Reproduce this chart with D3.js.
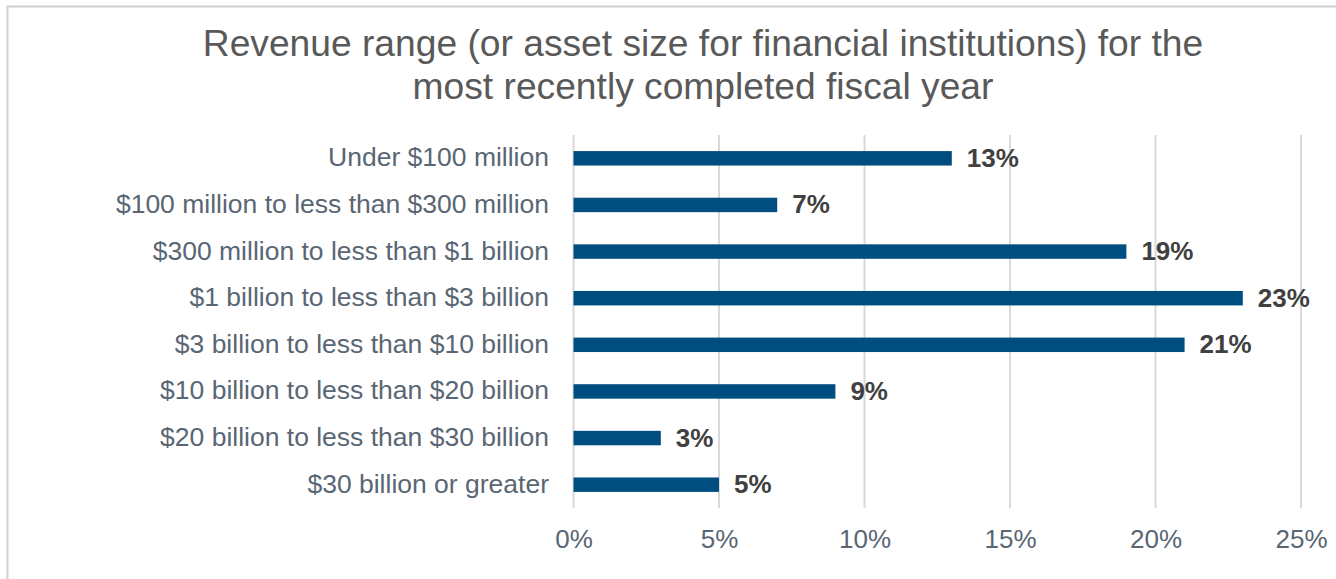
<!DOCTYPE html>
<html>
<head>
<meta charset="utf-8">
<script src="https://cdn.jsdelivr.net/npm/d3@7"></script>
<style>
  html, body { margin: 0; padding: 0; background: #fff; }
  svg { display: block; font-family: "Liberation Sans", Arial, sans-serif; }
</style>
</head>
<body>
<svg id="chart" width="1336" height="579"></svg>
<script>
// Revenue ranges and share of respondents (%)
const categories = [
  "Under $100 million",
  "$100 million to less than $300 million",
  "$300 million to less than $1 billion",
  "$1 billion to less than $3 billion",
  "$3 billion to less than $10 billion",
  "$10 billion to less than $20 billion",
  "$20 billion to less than $30 billion",
  "$30 billion or greater"
];
const values = [13, 7, 19, 23, 21, 9, 3, 5];
const tickValues = [0, 5, 10, 15, 20, 25];
const titleLines = [
  "Revenue range (or asset size for financial institutions) for the",
  "most recently completed fiscal year"
];

const svg = d3.select("#chart");

// outer frame
svg.append("rect")
  .attr("x", 7.5).attr("y", 6.5)
  .attr("width", 1400).attr("height", 700)
  .attr("fill", "none")
  .attr("stroke", "#d0d0d0")
  .attr("stroke-width", 2);

// title
svg.append("g").selectAll("text")
  .data(titleLines)
  .join("text")
  .attr("x", 703)
  .attr("y", (d, i) => 56 + i * 43)
  .attr("text-anchor", "middle")
  .attr("font-size", 37.2)
  .attr("fill", "#595959")
  .text(d => d);

const x = d3.scaleLinear().domain([0, 25]).range([573.5, 1301]);
const y = d3.scaleBand().domain(categories).range([135, 508]).paddingInner(0.69).paddingOuter(0.345);

// vertical gridlines
svg.append("g").selectAll("line")
  .data(tickValues)
  .join("line")
  .attr("x1", d => x(d)).attr("x2", d => x(d))
  .attr("y1", 135).attr("y2", 508)
  .attr("stroke", "#d9d9d9")
  .attr("stroke-width", 2);

// x axis labels
const xAxis = d3.axisBottom(x)
  .tickValues(tickValues)
  .tickFormat(d => d + "%")
  .tickSize(0)
  .tickPadding(0);
const gx = svg.append("g").attr("transform", "translate(0,548)").call(xAxis);
gx.select(".domain").remove();
gx.selectAll("text")
  .attr("font-size", 26)
  .attr("font-family", "Liberation Sans, Arial, sans-serif")
  .attr("fill", "#596673")
  .attr("y", 0)
  .attr("dy", 0);

// y axis labels
const yAxis = d3.axisLeft(y).tickSize(0).tickPadding(0);
const gy = svg.append("g").attr("transform", "translate(549,0)").call(yAxis);
gy.select(".domain").remove();
gy.selectAll("text")
  .attr("font-size", 26.5)
  .attr("font-family", "Liberation Sans, Arial, sans-serif")
  .attr("fill", "#596673")
  .attr("dy", "0.3em");

// bars
svg.append("g").selectAll("rect")
  .data(values)
  .join("rect")
  .attr("x", x(0))
  .attr("y", (d, i) => y(categories[i]))
  .attr("width", d => x(d) - x(0))
  .attr("height", y.bandwidth())
  .attr("fill", "#004e7f");

// value labels
svg.append("g").selectAll("text")
  .data(values)
  .join("text")
  .attr("x", d => x(d) + 15)
  .attr("y", (d, i) => y(categories[i]) + y.bandwidth() / 2 + 8.5)
  .attr("font-size", 26)
  .attr("font-weight", "bold")
  .attr("fill", "#404040")
  .text(d => d + "%");
</script>
</body>
</html>
